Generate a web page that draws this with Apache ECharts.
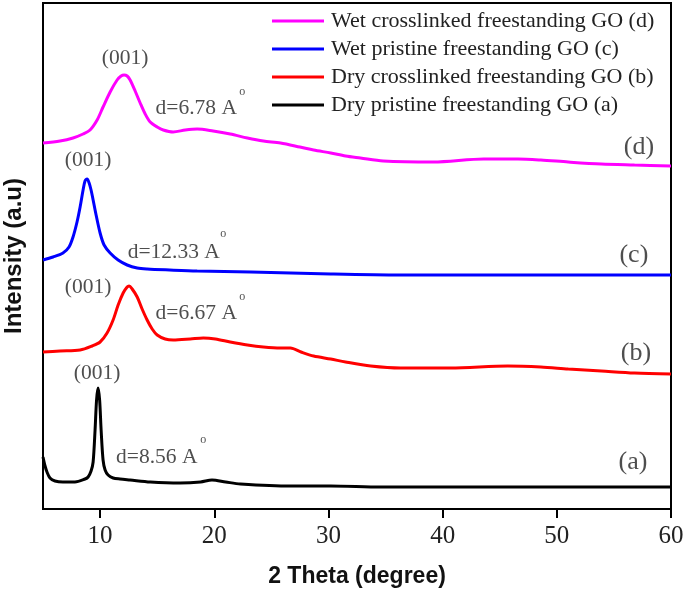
<!DOCTYPE html>
<html>
<head>
<meta charset="utf-8">
<script src="https://cdn.jsdelivr.net/npm/echarts@6/dist/echarts.min.js"></script>
<style>html,body{margin:0;padding:0;background:#fff}#c{width:685px;height:592px}</style>
</head>
<body>
<div id="c"></div>
<script>
// 2θ (degree) and intensity (a.u., arbitrary offset units)
const dryPristine = [
  [5.0,52],[5.18,43],[5.35,37],[5.61,31],[6.05,28],[6.75,27],[7.8,27],[8.68,30],[8.95,32],
  [9.21,38],[9.39,47],[9.56,79],[9.69,109],[9.82,121],[9.96,109],[10.09,79],[10.26,49],
  [10.44,39],[10.70,34],[11.14,31],[11.75,30],[12.63,29],[14.4,27],[17.0,26],[18.8,27],
  [19.8,29],[21.0,27],[22.3,25],[26.7,23],[30.2,23],[34.6,22],[40.7,22],[49.5,22],[60,22]
];
const dryCrosslinked = [
  [5.0,157],[6.49,158],[8.25,159],[9.30,163],[10.0,167],[10.61,176],[11.14,189],[11.58,204],
  [12.02,216],[12.37,222],[12.54,223],[12.81,220],[13.25,212],[13.68,200],[14.12,189],
  [14.56,180],[15.0,174],[15.7,170],[16.4,169],[17.9,170],[19.04,171],[20.1,170],[21.4,167],
  [22.9,164],[24.3,162],[25.8,161],[26.67,161],[27.6,157],[28.7,153],[30.2,150],[31.5,147],
  [33.7,143],[36.3,141],[40.7,141],[45.7,143],[48.6,142],[51.0,140],[53.9,138],[56.8,136],[60,135]
];
const wetPristine = [
  [5.0,249],[5.88,252],[6.75,256],[7.28,262],[7.63,272],[7.98,287],[8.25,302],[8.51,319],
  [8.68,328],[8.86,330],[9.04,326],[9.21,319],[9.39,309],[9.65,294],[10.0,276],[10.35,264],
  [10.88,256],[11.58,249],[12.37,244],[13.25,241],[14.12,240],[16.1,239],[18.5,238],[23.2,237],
  [30.2,235],[36.3,234],[45.1,234],[60,234]
];
const wetCrosslinked = [
  [5.0,366],[6.49,368],[7.63,371],[8.51,375],[9.12,379],[9.74,389],[10.26,402],[10.88,417],
  [11.49,429],[11.84,433],[12.1,434],[12.37,433],[12.63,429],[13.07,418],[13.51,406],[13.95,395],
  [14.39,387],[15.0,382],[15.53,379],[16.4,377],[17.46,379],[18.5,380],[19.9,378],[21.4,375],
  [22.9,371],[24.3,368],[25.8,366],[27.5,362],[28.7,359],[30.2,356],[31.5,353],[32.8,351],
  [34.8,348],[39.2,347],[43.6,350],[46.6,350],[48.6,349],[51.0,347],[53.9,345],[56.8,344],[60,343]
];
const seriesNames = [
  'Wet crosslinked freestanding GO (d)',
  'Wet pristine freestanding GO (c)',
  'Dry crosslinked freestanding GO (b)',
  'Dry pristine freestanding GO (a)'
];
const seriesColors = ['#ff00ff', '#0000ff', '#ff0000', '#000000'];
const xTicks = [10, 20, 30, 40, 50, 60];
// annotations: [2θ, intensity, text, kind]
const annotations = [
  [12.19,451,'(001)','n'],[18.42,401,'d=6.78 A','n'],[22.46,417,'o','deg'],
  [8.95,349,'(001)','n'],[16.45,257,'d=12.33 A','n'],[20.79,275,'o','deg'],
  [8.95,222,'(001)','n'],[18.42,196,'d=6.67 A','n'],[22.46,212,'o','deg'],
  [9.74,136,'(001)','n'],[14.96,52,'d=8.56 A','n'],[19.04,69,'o','deg'],
  [57.19,362,'(d)','big'],[56.75,254,'(c)','big'],[56.93,156,'(b)','big'],[56.67,47,'(a)','big']
];

const chart = echarts.init(document.getElementById('c'));
const serif = 'Liberation Serif';
const sizes = {n: 21.5, deg: 12, big: 26};
const lineSeries = [
  [wetCrosslinked, 0], [wetPristine, 1], [dryCrosslinked, 2], [dryPristine, 3]
].map(([d, i]) => ({
  name: seriesNames[i], type: 'line', data: d, showSymbol: false, smooth: 0.3,
  lineStyle: {color: seriesColors[i], width: 3}, itemStyle: {color: seriesColors[i]},
  z: 3
}));
chart.setOption({
  animation: false,
  backgroundColor: '#fff',
  grid: {left: 43, right: 14, top: 3, bottom: 83, show: true, borderColor: '#000', borderWidth: 2,
    outerBoundsMode: 'none', containLabel: false},
  legend: {
    data: seriesNames, orient: 'vertical', left: 267, top: 5, itemGap: 6,
    icon: 'rect', itemWidth: 52, itemHeight: 3,
    textStyle: {fontFamily: serif, fontSize: 22, color: '#222', lineHeight: 22, padding: [0,0,0,2]}
  },
  xAxis: {
    type: 'value', min: 5, max: 60,
    name: '2 Theta (degree)', nameLocation: 'middle', nameGap: 56,
    nameTextStyle: {fontFamily: 'Liberation Sans', fontWeight: 'bold', fontSize: 23, color: '#111'},
    axisLine: {lineStyle: {color: '#000', width: 2}},
    axisTick: {show: true, length: 9, lineStyle: {color: '#000', width: 2}, customValues: xTicks},
    axisLabel: {fontFamily: serif, fontSize: 25, color: '#222', margin: 15, customValues: xTicks},
    splitLine: {show: false}
  },
  yAxis: {
    type: 'value', min: 0, max: 506,
    name: 'Intensity (a.u)', nameLocation: 'middle', nameGap: 17,
    nameTextStyle: {fontFamily: 'Liberation Sans', fontWeight: 'bold', fontSize: 24, color: '#111'},
    axisLine: {show: true, lineStyle: {color: '#000', width: 2}},
    axisTick: {show: false}, axisLabel: {show: false}, splitLine: {show: false}
  },
  series: lineSeries.concat([{
    type: 'scatter', symbolSize: 0, silent: true, z: 5,
    data: annotations.map(a => ({
      value: [a[0], a[1]], name: a[2],
      label: {show: true, position: 'inside', formatter: a[2], fontFamily: serif,
        fontSize: sizes[a[3]], color: '#222'}
    }))
  }])
});
</script>
</body>
</html>
